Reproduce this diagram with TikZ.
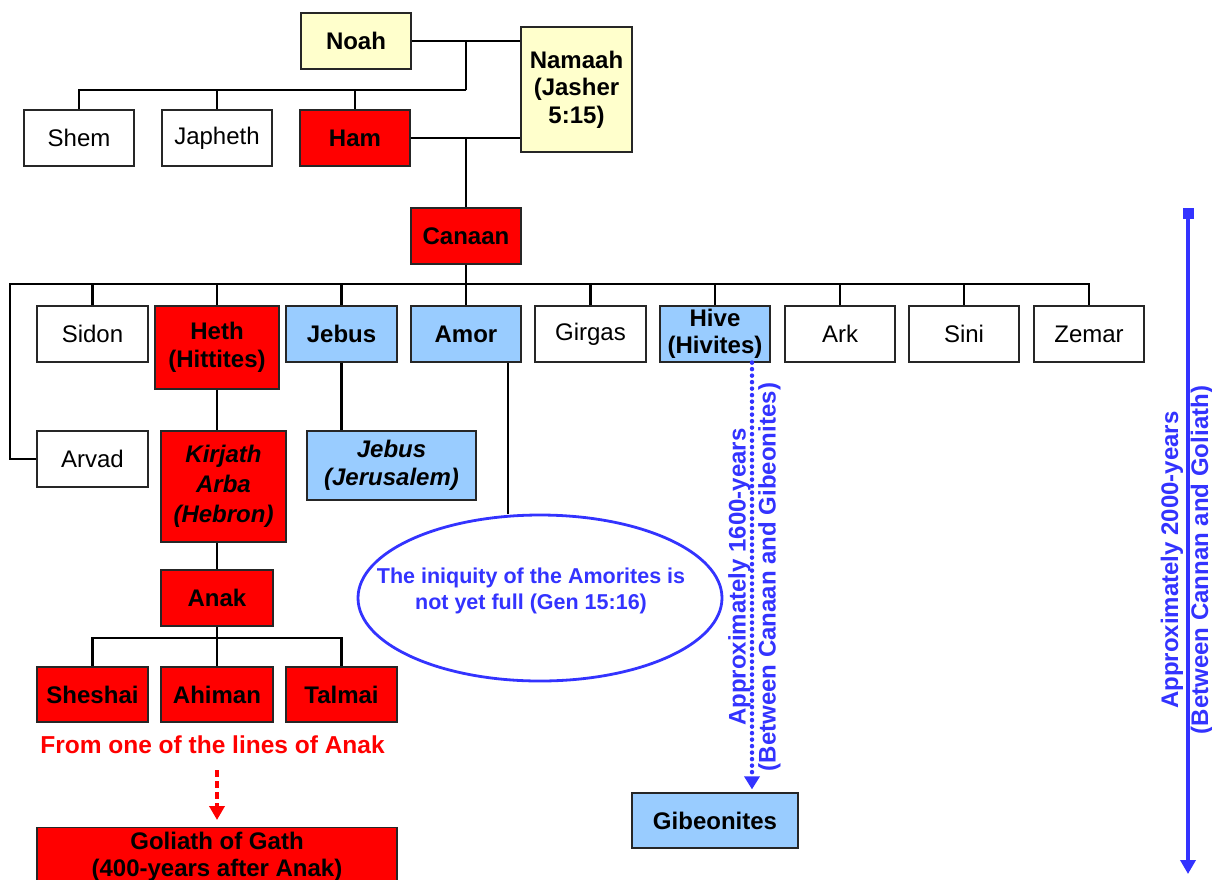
\documentclass[tikz,border=0pt]{standalone}
\usepackage{fontspec}
\setmainfont{Liberation Sans}
\usetikzlibrary{arrows.meta,shapes.geometric}
\definecolor{cred}{RGB}{255,0,0}
\definecolor{cblue}{RGB}{153,204,255}
\definecolor{cyel}{RGB}{255,255,204}
\definecolor{tblue}{RGB}{51,51,255}
\begin{document}
\begin{tikzpicture}[x=1pt,y=-1pt,
  box/.style={draw=black!85, line width=1.2pt, inner sep=0pt, align=center,
    font=\fontsize{24}{27.5}\selectfont, text=black},
  plainbox/.style={box, fill=white},
  yelbox/.style={box, fill=cyel, font=\fontsize{24}{27.5}\selectfont\bfseries},
  redbox/.style={box, fill=cred, font=\fontsize{24}{27.5}\selectfont\bfseries},
  redit/.style={box, fill=cred, font=\fontsize{24}{30}\selectfont\bfseries\itshape},
  bluebox/.style={box, fill=cblue, font=\fontsize{24}{27.5}\selectfont\bfseries},
  blueit/.style={box, fill=cblue, font=\fontsize{24}{28}\selectfont\bfseries\itshape},
  conn/.style={line width=2.5pt, black},
  bluelabel/.style={text=tblue, align=center, inner sep=0pt,
    font=\fontsize{24}{30}\selectfont\bfseries},
]
\clip (0,0) rectangle (1212,879);
\fill[white] (0,0) rectangle (1212,879);

% generation 1
\node[yelbox, minimum width=110, minimum height=56] (noah) at (356,41) {Noah};
\node[yelbox, minimum width=111, minimum height=125] (namaah) at (576.5,89.5) {Namaah\\(Jasher\\5:15)};
% generation 2
\node[plainbox, minimum width=110, minimum height=56] (shem) at (79,138) {Shem};
\node[plainbox, minimum width=110, minimum height=56] (japheth) at (217,138) {Japheth};
\node[redbox, minimum width=110, minimum height=56] (ham) at (355,138) {Ham};
% generation 3
\node[redbox, minimum width=110, minimum height=56] (canaan) at (466,236) {Canaan};
% generation 4
\node[plainbox, minimum width=111, minimum height=56] (sidon) at (92.5,334) {Sidon};
\node[redbox, minimum width=124, minimum height=83] (heth) at (217,347.5) {Heth\\(Hittites)};
\node[bluebox, minimum width=111, minimum height=56] (jebus) at (341.5,334) {Jebus};
\node[bluebox, minimum width=110, minimum height=56] (amor) at (466,334) {Amor};
\node[plainbox, minimum width=111, minimum height=56] (girgas) at (590.5,334) {Girgas};
\node[bluebox, minimum width=110, minimum height=56] (hive) at (715,334) {Hive\\(Hivites)};
\node[plainbox, minimum width=110, minimum height=56] (ark) at (840,334) {Ark};
\node[plainbox, minimum width=110, minimum height=56] (sini) at (964,334) {Sini};
\node[plainbox, minimum width=110, minimum height=56] (zemar) at (1089,334) {Zemar};
\node[plainbox, minimum width=111, minimum height=56] (arvad) at (92.5,459) {Arvad};
% further
\node[redit, minimum width=125, minimum height=111] (kirjath) at (223.5,486.5) {Kirjath\\Arba\\(Hebron)};
\node[blueit, minimum width=169, minimum height=69] (jerusalem) at (391.5,465.5) {Jebus\\(Jerusalem)};
\node[redbox, minimum width=112, minimum height=56] (anak) at (217,598) {Anak};
\node[redbox, minimum width=111, minimum height=55] (sheshai) at (92.5,694.5) {Sheshai};
\node[redbox, minimum width=112, minimum height=55] (ahiman) at (217,694.5) {Ahiman};
\node[redbox, minimum width=111, minimum height=55] (talmai) at (341.5,694.5) {Talmai};
\node[text=cred, inner sep=0pt, font=\fontsize{24.5}{27.5}\selectfont\bfseries] (fromtxt) at (212.5,745) {From one of the lines of Anak};
\node[redbox, anchor=north, minimum width=360, minimum height=58] (goliath) at (217,827) {Goliath of Gath\\(400-years after Anak)};
\node[bluebox, minimum width=166, minimum height=55] (gib) at (715,820.5) {Gibeonites};

% ellipse
\node[ellipse, draw=tblue, line width=2.8pt, fill=white, minimum width=364, minimum height=166, inner sep=0pt] (ell) at (540,598) {};
\node[text=tblue, align=center, inner sep=0pt, font=\fontsize{21.5}{26}\selectfont\bfseries] (elltxt) at ([xshift=-9,yshift=7]ell.center) {The iniquity of the Amorites is\\not yet full (Gen 15:16)};

% connectors Noah family
\coordinate (j1) at (466,41);
\coordinate (bar1) at (466,90);
\draw[conn] (noah.east) -- (noah.east -| namaah.west);
\draw[conn] (j1) -- (bar1);
\draw[conn] (bar1) -| (shem.north);
\draw[conn] (bar1) -| (japheth.north);
\draw[conn] (bar1) -| (ham.north);
\coordinate (j2) at (466,138);
\draw[conn] (ham.east) -- (ham.east -| namaah.west);
\draw[conn] (j2) -- (canaan.north);
% Canaan's sons
\coordinate (bar2) at (466,284);
\coordinate (arvL) at (10,284);
\draw[conn] (canaan.south) -- (bar2);
\draw[conn] (bar2) -- (arvL) |- (arvad.west);
\foreach \c in {sidon,heth,jebus,amor,girgas,hive,ark,sini,zemar}
  \draw[conn] (bar2) -| (\c.north);
% lower lines
\draw[conn] (heth.south) -- (heth.south |- kirjath.north);
\draw[conn] (jebus.south) -- (jebus.south |- jerusalem.north);
\draw[conn] ([xshift=42]amor.south) -- ([xshift=42]amor.south |- ell.north);
\draw[conn] (kirjath.south -| anak.north) -- (anak.north);
\coordinate (bar3) at (217,638);
\draw[conn] (anak.south) -- (bar3);
\draw[conn] (bar3) -| (sheshai.north);
\draw[conn] (bar3) -| (ahiman.north);
\draw[conn] (bar3) -| (talmai.north);

% red dashed arrow
\draw[cred, line width=4pt, dash pattern=on 7pt off 4pt,
  -{Triangle[length=14pt,width=15pt]}]
  ([yshift=-16]fromtxt.south -| goliath.north) -- ([yshift=7]goliath.north);

% Hive to Gibeonites dotted arrow
\draw[tblue, line width=4.5pt, line cap=round, dash pattern=on 0pt off 6.5pt,
  -{Triangle[length=13pt,width=15pt]}]
  ([xshift=37]hive.south) -- ([xshift=37,yshift=3]gib.north);
\node[bluelabel, rotate=90] (lab1600) at (754.5,577) {Approximately 1600-years\\(Between Canaan and Gibeonites)};

% right timeline
\coordinate (rtop) at (1188,208);
\coordinate (rbot) at (1188,874);
\draw[tblue, line width=3.5pt, {Square[length=11pt,width=11pt]}-{Triangle[length=14pt,width=15pt]}] (rtop) -- (rbot);
\node[bluelabel, rotate=90] (lab2000) at (1187,560) {Approximately 2000-years\\(Between Cannan and Goliath)};
\end{tikzpicture}
\end{document}
